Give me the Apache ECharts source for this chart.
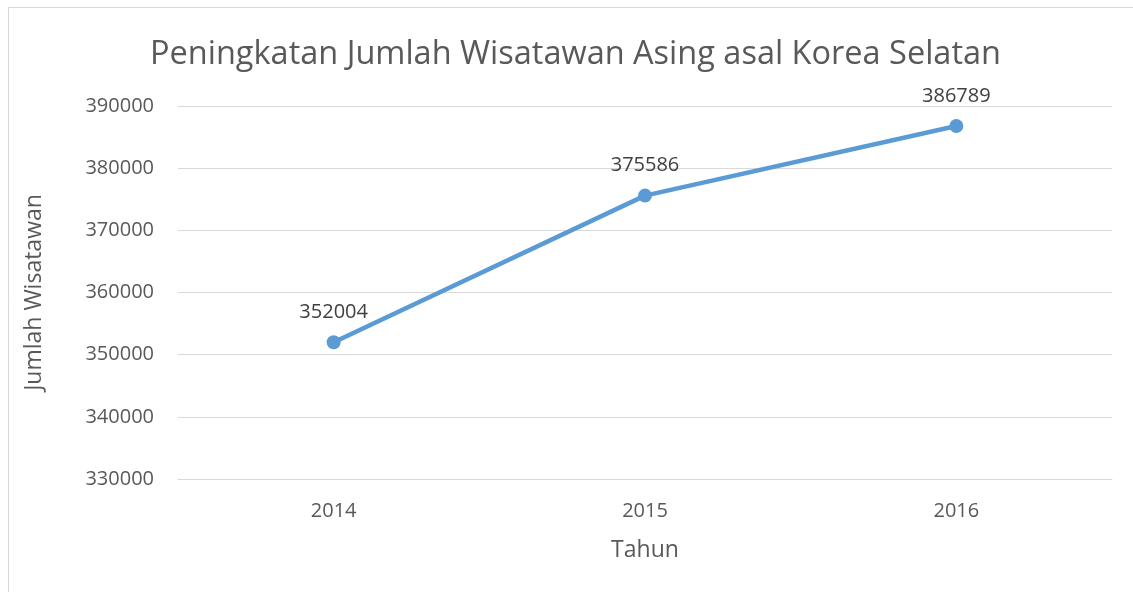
<!DOCTYPE html>
<html><head><meta charset="utf-8">
<script src="https://cdn.jsdelivr.net/npm/echarts@6/dist/echarts.min.js"></script>
<style>html,body{margin:0;padding:0;background:#fff}#c{width:1133px;height:592px}</style>
</head><body><div id="c"></div>
<script>
const categories = ['2014', '2015', '2016'];
const values = [352004, 375586, 386789];
const yTicks = { min: 330000, max: 390000, interval: 10000 };
const titleText = 'Peningkatan Jumlah Wisatawan Asing asal Korea Selatan';
const xName = 'Tahun';
const yName = 'Jumlah Wisatawan';

const chart = echarts.init(document.getElementById('c'), null, { renderer: 'canvas' });
const FONT = 'Open Sans';
chart.setOption({
  animation: false,
  backgroundColor: '#fff',
  graphic: [{
    type: 'rect', shape: { x: 8.5, y: 7.5, width: 1140, height: 600 },
    style: { fill: 'none', stroke: '#d9d9d9', lineWidth: 1 }, silent: true, z: -1
  }],
  title: {
    text: titleText, left: 145, top: 33,
    textStyle: { fontFamily: FONT, fontSize: 32.5, fontWeight: 'normal', color: '#595959' }
  },
  grid: { left: 178, right: 21, top: 106, bottom: 113 },
  xAxis: {
    type: 'category', data: categories, boundaryGap: true,
    name: xName, nameLocation: 'middle', nameGap: 60,
    nameTextStyle: { fontFamily: FONT, fontSize: 23, color: '#595959' },
    axisLine: { show: true, lineStyle: { color: '#d9d9d9', width: 1 } },
    axisTick: { show: false },
    axisLabel: { fontFamily: FONT, fontSize: 20, color: '#595959', margin: 22 }
  },
  yAxis: {
    type: 'value', min: yTicks.min, max: yTicks.max, interval: yTicks.interval,
    name: yName, nameLocation: 'middle', nameGap: 132, nameRotate: 90,
    nameTextStyle: { fontFamily: FONT, fontSize: 23, color: '#595959' },
    axisLine: { show: false }, axisTick: { show: false },
    axisLabel: { fontFamily: FONT, fontSize: 20, color: '#595959', margin: 24,
      formatter: v => String(v) },
    splitLine: { lineStyle: { color: '#d9d9d9', width: 1 } }
  },
  series: [{
    type: 'line', data: values,
    lineStyle: { color: '#5B9BD5', width: 4.5 },
    itemStyle: { color: '#5B9BD5' },
    symbol: 'circle', symbolSize: 14,
    label: { show: true, position: 'top', distance: 13,
      fontFamily: FONT, fontSize: 20, color: '#404040' }
  }]
});
</script></body></html>
